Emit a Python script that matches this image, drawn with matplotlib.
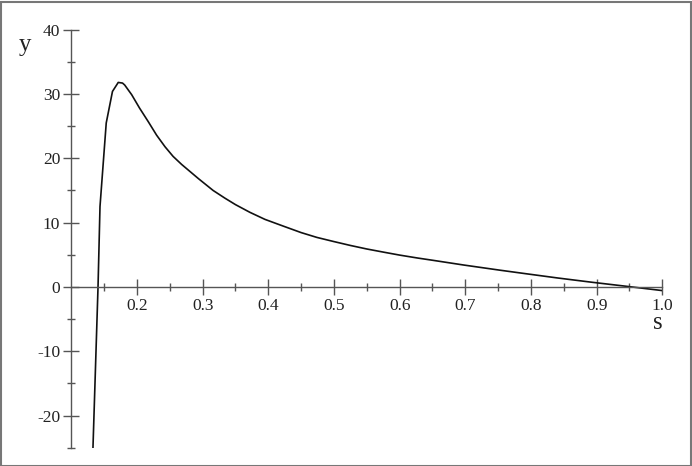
import matplotlib
matplotlib.use("Agg")
import matplotlib.pyplot as plt
from matplotlib.patches import Rectangle
from matplotlib.ticker import FixedLocator

s_vals = [0.133, 0.1407, 0.1437, 0.1532, 0.1627, 0.1715, 0.178, 0.1813, 0.1919,
          0.204, 0.2172, 0.2299, 0.2427, 0.255, 0.268, 0.2935, 0.316, 0.334,
          0.35, 0.372, 0.395, 0.423, 0.45, 0.474, 0.50, 0.525, 0.55, 0.576,
          0.60, 0.627, 0.65, 0.698, 0.753, 0.789, 0.840, 0.891, 0.941, 0.992, 1.0]
y_vals = [-25.0, 0.0, 12.5, 25.5, 30.4, 31.8, 31.7, 31.4, 29.9,
          27.8, 25.7, 23.6, 21.8, 20.3, 19.05, 16.85, 15.0, 13.8,
          12.8, 11.6, 10.5, 9.45, 8.45, 7.7, 7.05, 6.45, 5.9, 5.4,
          4.95, 4.5, 4.15, 3.4, 2.6, 2.1, 1.4, 0.75, 0.15, -0.47, -0.57]

x_major = [0.2, 0.3, 0.4, 0.5, 0.6, 0.7, 0.8, 0.9, 1.0]
x_labels = ["0.2", "0.3", "0.4", "0.5", "0.6", "0.7", "0.8", "0.9", "1.0"]
x_minor = [0.15, 0.25, 0.35, 0.45, 0.55, 0.65, 0.75, 0.85, 0.95]
y_major = [-20, -10, 0, 10, 20, 30, 40]
y_labels = ["-20", "-10", "0", "10", "20", "30", "40"]
y_minor = [-25, -15, -5, 5, 15, 25, 35]

W, H = 692, 466
fig = plt.figure(figsize=(W / 100, H / 100), dpi=100)
fig.patch.set_facecolor("white")
ax = fig.add_axes([71.3 / W, 18.3 / H, 591.0 / W, 418.0 / H])
ax.set_facecolor("none")

ax.plot(s_vals, y_vals, color="#111111", lw=1.2)

ax.set_xlim(0.1, 1.0)
ax.set_ylim(-25, 40)

axis_color = "#555555"
for side in ["top", "right"]:
    ax.spines[side].set_visible(False)
ax.spines["left"].set_position(("data", 0.1))
ax.spines["bottom"].set_position(("data", 0))
for side in ["left", "bottom"]:
    ax.spines[side].set_color(axis_color)
    ax.spines[side].set_linewidth(1.0)

serif = ["Liberation Serif", "DejaVu Serif"]
ax.xaxis.set_major_locator(FixedLocator(x_major))
ax.xaxis.set_minor_locator(FixedLocator(x_minor))
ax.set_xticklabels(x_labels, family=serif, fontsize=12.5, color="#222222")
ax.yaxis.set_major_locator(FixedLocator(y_major))
ax.yaxis.set_minor_locator(FixedLocator(y_minor))
ax.set_yticklabels(y_labels, family=serif, fontsize=12.5, color="#222222")

ax.tick_params(axis="both", which="major", direction="inout", length=12, width=1.0,
               color=axis_color, pad=2)
ax.tick_params(axis="both", which="minor", direction="inout", length=6, width=1.0,
               color=axis_color)

fig.text(24.5 / W, (H - 51) / H, "y", family=serif, fontsize=18, ha="center",
         va="baseline", color="#222222")
fig.text(657.5 / W, (H - 329) / H, "s", family=serif, fontsize=18, ha="center",
         va="baseline", color="#222222")

fig.patches.append(Rectangle((0.5 / W, 0.5 / H), (W - 2) / W, (H - 2) / H,
                             transform=fig.transFigure, fill=False,
                             edgecolor="#777777", lw=1.5))

fig.savefig("out.png", dpi=100)
